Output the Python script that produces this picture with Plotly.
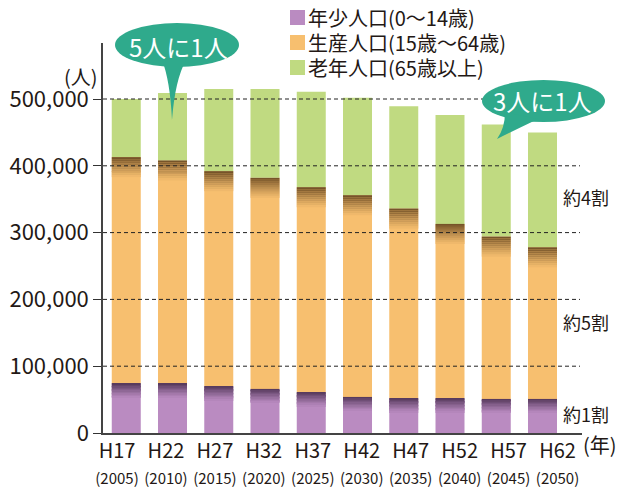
import plotly.graph_objects as go

# ---------------- data ----------------
eras = ["H17", "H22", "H27", "H32", "H37", "H42", "H47", "H52", "H57", "H62"]
years = ["2005", "2010", "2015", "2020", "2025", "2030", "2035", "2040", "2045", "2050"]
young = [74000, 74000, 70000, 66000, 61000, 54000, 52000, 52000, 51000, 51000]
working = [339000, 334000, 322000, 316000, 307000, 302000, 284000, 261000, 243000, 227000]
elderly = [87000, 101000, 123000, 133000, 143000, 146000, 153000, 163000, 168000, 172000]

series_names = ["年少人口(0～14歳)", "生産人口(15歳～64歳)", "老年人口(65歳以上)"]
ytick_vals = [0, 100000, 200000, 300000, 400000, 500000]
ytick_text = ["0", "100,000", "200,000", "300,000", "400,000", "500,000"]
share_labels = ["約4割", "約5割", "約1割"]
callout_labels = ["5人に1人", "3人に1人"]
y_unit = "(人)"
x_unit = "(年)"

# ---------------- style ----------------
FONT = "Noto Sans CJK JP"
TXT = "#231815"
C_YOUNG = "#BA8BC1"
C_WORK = "#F7BF6F"
C_OLD = "#C0DA81"
C_TEAL = "#2FAA8C"
BW = 0.627

OFF = 8  # page offset of the plot div
W, H = 626 - OFF, 493 - OFF
# plot area in reference-page pixels
L, R, T, B = 103, 582, 43, 433
PW, PH = R - L, B - T
Y_MAX = PH / 66.8 * 100000


def px(x):
    return (x - L) / PW


def py(y):
    return (B - y) / PH


def hex2rgb(h):
    h = h.lstrip("#")
    return [int(h[i:i + 2], 16) for i in (0, 2, 4)]


def blend(c1, c2, a):
    r1, r2 = hex2rgb(c1), hex2rgb(c2)
    return "rgb(%d,%d,%d)" % tuple(round(x * (1 - a) + y * a) for x, y in zip(r1, r2))


idx = list(range(len(eras)))
base_work = young
base_old = [a + b for a, b in zip(young, working)]

fig = go.Figure()
fig.add_bar(x=idx, y=young, base=[0] * len(idx), name=series_names[0],
            marker=dict(color=C_YOUNG, line=dict(width=0)), width=BW)
fig.add_bar(x=idx, y=working, base=base_work, name=series_names[1],
            marker=dict(color=C_WORK, line=dict(width=0)), width=BW)
fig.add_bar(x=idx, y=elderly, base=base_old, name=series_names[2],
            marker=dict(color=C_OLD, line=dict(width=0)), width=BW)


def add_shade(tops, base_color, dark, depth, n=10, max_a=0.68):
    step = depth / n
    for i in range(n):
        a = max_a * (1 - i / n) ** 1.2
        fig.add_bar(x=idx, y=[step] * len(idx),
                    base=[t - (i + 1) * step for t in tops],
                    marker=dict(color=blend(base_color, dark, a), line=dict(width=0)),
                    width=BW, showlegend=False, hoverinfo="skip")


add_shade(base_work, C_YOUNG, "#2A1630", 21000)
add_shade(base_old, C_WORK, "#3A2208", 30000)

# invisible trace carrying the label axis
fig.add_scatter(x=idx, y=[0] * len(idx), xaxis="x2", mode="none",
                showlegend=False, hoverinfo="skip")

shapes = []
# dashed grid lines above bars
for v in ytick_vals[1:]:
    shapes.append(dict(type="line", xref="paper", yref="y", x0=0, x1=px(580),
                       y0=v, y1=v, layer="above",
                       line=dict(color="#222", width=1, dash="4px,3px")))

# callout bubbles
shapes.append(dict(type="circle", xref="paper", yref="paper", layer="above",
                   x0=px(115), x1=px(239), y0=py(67), y1=py(23),
                   fillcolor=C_TEAL, line=dict(width=0)))
shapes.append(dict(type="path", xref="paper", yref="paper", layer="above",
                   path=(f"M{px(162)},{py(60)} Q{px(170)},{py(80)} {px(172)},{py(120)} "
                         f"Q{px(175)},{py(80)} {px(186)},{py(60)} Z"),
                   fillcolor=C_TEAL, line=dict(width=0)))
shapes.append(dict(type="circle", xref="paper", yref="paper", layer="above",
                   x0=px(482), x1=px(605), y0=py(122), y1=py(80),
                   fillcolor=C_TEAL, line=dict(width=0)))
shapes.append(dict(type="path", xref="paper", yref="paper", layer="above",
                   path=(f"M{px(505)},{py(112)} Q{px(505)},{py(128)} {px(497)},{py(139)} "
                         f"Q{px(515)},{py(130)} {px(538)},{py(119)} Z"),
                   fillcolor=C_TEAL, line=dict(width=0)))

# manual legend squares
leg_colors = [C_YOUNG, C_WORK, C_OLD]
leg_rows = [17.5, 42.5, 67.5]
for c, yc in zip(leg_colors, leg_rows):
    shapes.append(dict(type="rect", xref="paper", yref="paper", layer="above",
                       x0=px(290), x1=px(305), y0=py(yc + 7.5), y1=py(yc - 7.5),
                       fillcolor=c, line=dict(width=0)))


def note(text, x, y, size, color=TXT, xanchor="center"):
    return dict(text=text, xref="paper", yref="paper", x=px(x), y=py(y),
                xanchor=xanchor, yanchor="middle", showarrow=False,
                font=dict(size=size, color=color, family=FONT))


annotations = []
for name, yc in zip(series_names, leg_rows):
    annotations.append(note(name, 306, yc, 20, xanchor="left"))

annotations.append(note(callout_labels[0], 178, 47, 24, "white"))
annotations.append(note(callout_labels[1], 542, 100, 24, "white"))

for lab, yc in zip(share_labels, [197, 322, 414]):
    annotations.append(note(lab, 586, yc, 18))

annotations.append(note(y_unit, 81, 76, 20))
annotations.append(note(x_unit, 600, 445, 20))

ticktext = [f"{e}<br><span style='font-size:15px'>({y})</span>" for e, y in zip(eras, years)]

fig.update_layout(
    width=W, height=H,
    margin=dict(l=L - OFF, r=626 - R, t=T - OFF, b=493 - B, autoexpand=False),
    barmode="overlay",
    plot_bgcolor="white", paper_bgcolor="white",
    showlegend=False,
    font=dict(family=FONT, color=TXT),
    shapes=shapes,
    annotations=annotations,
    xaxis=dict(range=[-0.503, 9.854], showticklabels=False, ticks="",
               showgrid=False, zeroline=False, showline=True,
               linecolor="#444", linewidth=1.5),
    xaxis2=dict(overlaying="x", anchor="y", side="bottom",
                range=[-0.286, 9.5], tickmode="array", tickvals=idx,
                ticktext=ticktext, ticks="", showgrid=False, zeroline=False,
                showline=False, ticklabelstandoff=4,
                tickfont=dict(size=20, color=TXT, family=FONT)),
    yaxis=dict(range=[0, Y_MAX], tickmode="array", tickvals=ytick_vals,
               ticktext=ytick_text, ticks="outside", ticklen=8,
               tickcolor="#333", tickwidth=1, showgrid=False, zeroline=False,
               showline=True, linecolor="#444", linewidth=1.5,
               tickfont=dict(size=22, color=TXT, family=FONT)),
)

fig.write_html("out.html")
